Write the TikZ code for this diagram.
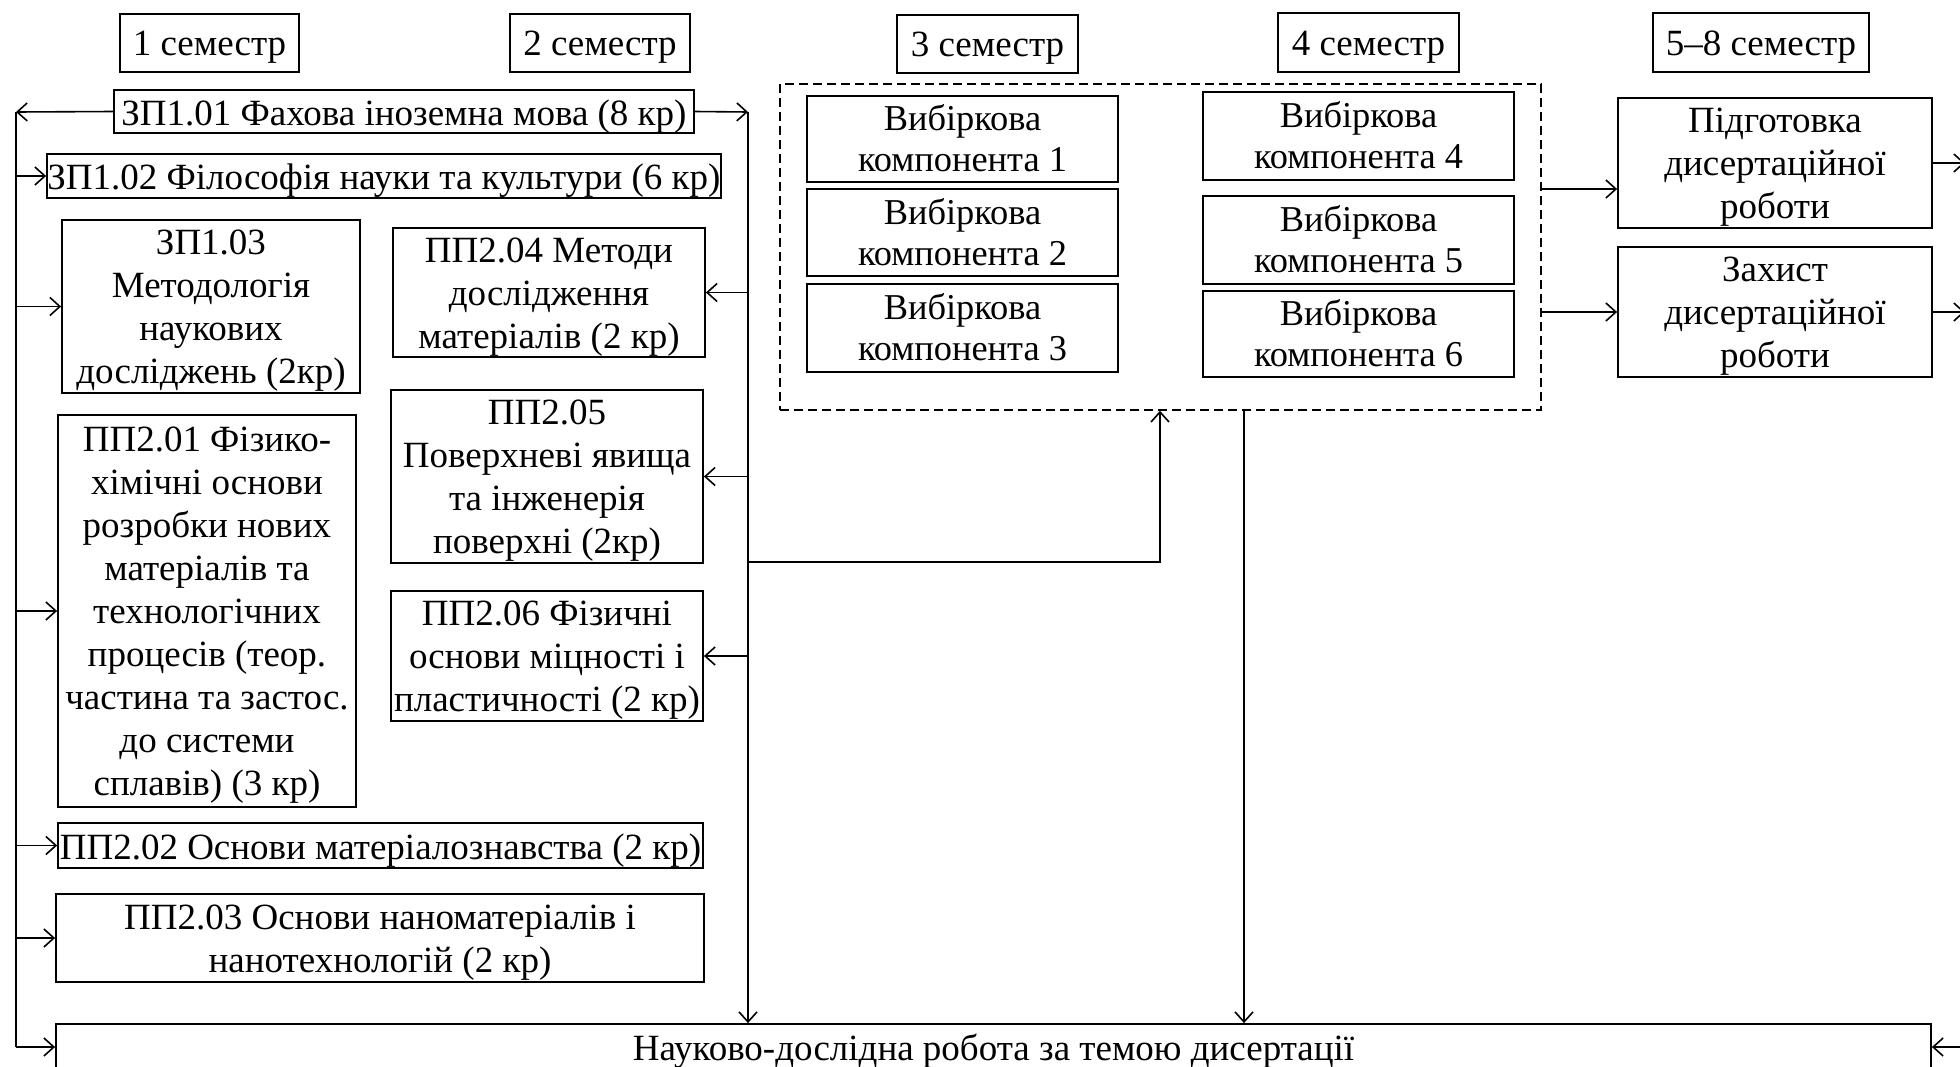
\documentclass[tikz,border=0pt]{standalone}
\usepackage{fontspec}
\setmainfont{Liberation Serif}
\usetikzlibrary{arrows.meta}
\tikzset{
  bx/.style={draw, line width=0.9pt, inner sep=0pt},
  txt/.style={align=center, inner sep=0pt, font=\fontsize{18.5}{21.5}\selectfont},
  vtxt/.style={align=center, inner sep=0pt, font=\fontsize{18.2}{20.6}\selectfont},
  arr/.style={-{Straight Barb[length=5pt,width=9pt]}, line width=0.8pt},
  ln/.style={line width=0.8pt},
  dashbox/.style={draw, line width=0.8pt, dash pattern=on 4.5pt off 2.5pt, inner sep=0pt}
}
\newcommand\bnode[7][txt]{\node[bx, minimum width={(#5-#3)*0.5pt}, minimum height={(#6-#4)*0.5pt}] (#2) at ({(#3+#5)/2},{(#4+#6)/2}) {};
\node[#1] (#2t) at ([yshift=-2.3pt]#2.center) {#7};}
\newcommand\vnode[6]{\node[bx, minimum width={(#4-#2)*0.5pt}, minimum height={(#5-#3)*0.5pt}] (#1) at ({(#2+#4)/2},{(#3+#5)/2}) {};
\node[vtxt] (#1t) at ([yshift=0.3pt]#1.center) {#6};}
\begin{document}
\begin{tikzpicture}[x=0.5pt,y=-0.5pt]
\useasboundingbox (0,0) rectangle (1960,1066);
\clip (0,0) rectangle (1960,1066);
% semesters
\bnode{s1}{120}{14}{299}{72}{1 семестр}
\bnode{s2}{510}{14}{690}{72}{2 семестр}
\bnode{s3}{897}{15}{1078}{73}{3 семестр}
\bnode{s4}{1278}{13}{1459}{72}{4 семестр}
\bnode{s5}{1653}{13}{1869}{72}{5–8 семестр}
% left column
\bnode{z1}{114}{90}{694}{133}{ЗП1.01 Фахова іноземна мова (8 кр)}
\bnode{z2}{47}{154}{721}{198}{ЗП1.02 Філософія науки та культури (6 кр)}
\bnode{z3}{62}{220}{360}{393}{ЗП1.03\\Методологія\\наукових\\досліджень (2кр)}
\bnode{p4}{393}{228}{705}{357}{ПП2.04 Методи\\дослідження\\матеріалів (2 кр)}
\bnode{p5}{391}{390}{703}{563}{ПП2.05\\Поверхневі явища\\та інженерія\\поверхні (2кр)}
\bnode{p1}{58}{415}{356}{807}{ПП2.01 Фізико-\\хімічні основи\\розробки нових\\матеріалів та\\технологічних\\процесів (теор.\\частина та застос.\\до системи\\сплавів) (3 кр)}
\bnode{p6}{391}{591}{703}{721}{ПП2.06 Фізичні\\основи міцності і\\пластичності (2 кр)}
\bnode{p2}{58}{823}{703}{868}{ПП2.02 Основи матеріалознавства (2 кр)}
\bnode{p3}{56}{894}{704}{982}{ПП2.03 Основи наноматеріалів і\\нанотехнологій (2 кр)}
\bnode{nd}{56}{1024}{1931}{1070}{Науково-дослідна робота за темою дисертації}
% elective block
\node[dashbox, minimum width={761*0.5pt}, minimum height={326*0.5pt}] (dash) at ({(780+1541)/2},{(84+410)/2}) {};
\vnode{v1}{807}{96}{1118}{182}{Вибіркова\\компонента 1}
\vnode{v2}{807}{189}{1118}{276}{Вибіркова\\компонента 2}
\vnode{v3}{807}{284}{1118}{372}{Вибіркова\\компонента 3}
\vnode{v4}{1203}{92}{1514}{180}{Вибіркова\\компонента 4}
\vnode{v5}{1203}{196}{1514}{284}{Вибіркова\\компонента 5}
\vnode{v6}{1203}{291}{1514}{377}{Вибіркова\\компонента 6}
% final
\bnode{pd}{1618}{98}{1932}{228}{Підготовка\\дисертаційної\\роботи}
\bnode{zx}{1618}{247}{1932}{377}{Захист\\дисертаційної\\роботи}
% coordinates
\coordinate (lt) at (16,112);
\coordinate (rt) at (748,112);
\coordinate (hb) at (748,562);
\coordinate (hc) at (1160,562);
\coordinate (dx) at (1244,0);
\coordinate (ya) at (0,189);
\coordinate (ro1) at (1965,163);
\coordinate (ro2) at (1965,312);
\coordinate (ro3) at (1980,1047);
% left bus
\draw[arr] (z1.west) -- (lt);
\draw[ln] (lt) -- (lt |- nd.west);
\draw[arr] (z2.west -| lt) -- (z2.west);
\draw[arr] (z3.west -| lt) -- (z3.west);
\draw[arr] (p1.west -| lt) -- (p1.west);
\draw[arr] (p2.west -| lt) -- (p2.west);
\draw[arr] (p3.west -| lt) -- (p3.west);
\draw[arr] (nd.west -| lt) -- (nd.west);
% right bus
\draw[arr] (z1.east) -- (rt);
\draw[arr] (rt) -- (rt |- nd.north);
\draw[arr] (p4.east -| rt) -- (p4.east);
\draw[arr] (p5.east -| rt) -- (p5.east);
\draw[arr] (p6.east -| rt) -- (p6.east);
\draw[arr] (hb) -- (hc) -- (hc |- dash.south);
\draw[arr] (dash.south -| dx) -- (nd.north -| dx);
% to final stage
\draw[arr] (dash.east |- ya) -- (pd.west |- ya);
\draw[arr] (zx.west -| dash.east) -- (zx.west);
\draw[arr] (pd.east) -- (ro1);
\draw[arr] (zx.east) -- (ro2);
\draw[arr] (ro3) -- (nd.east);
\end{tikzpicture}
\end{document}
